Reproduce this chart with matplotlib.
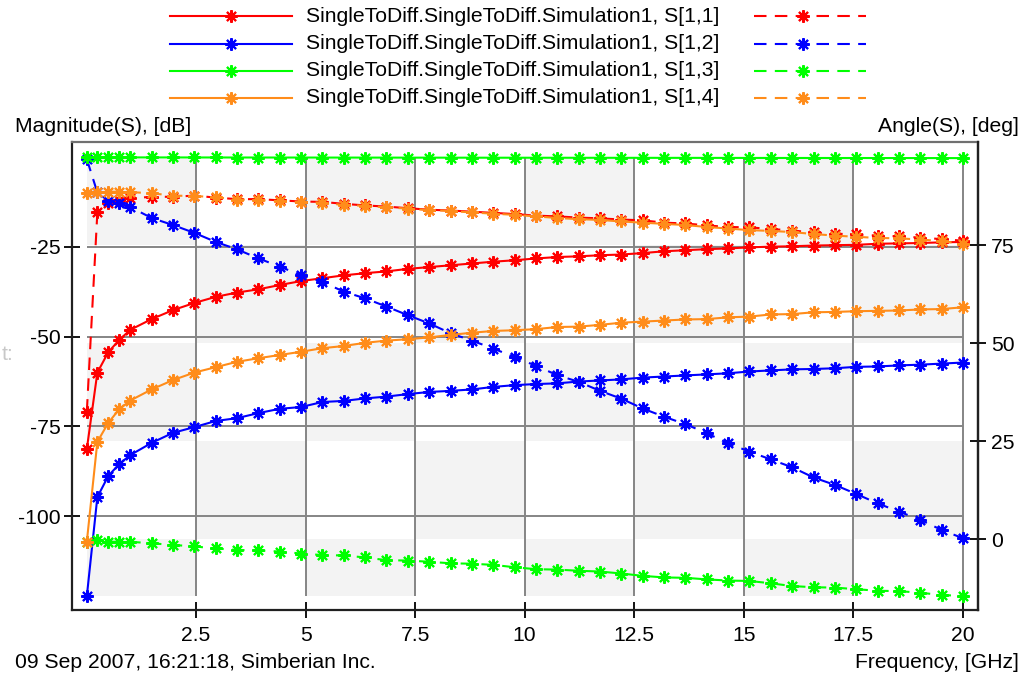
import matplotlib
matplotlib.use('Agg')
import matplotlib.pyplot as plt
from matplotlib.lines import Line2D
from matplotlib.patches import Rectangle

plt.rcParams['font.family'] = ['Liberation Sans', 'DejaVu Sans']
plt.rcParams['axes.unicode_minus'] = False

# ---------------- data ----------------
freq = [0.01, 0.25, 0.5, 0.75, 1.0, 1.487, 1.974, 2.462, 2.949, 3.436, 3.923, 4.41,
        4.897, 5.385, 5.872, 6.359, 6.846, 7.333, 7.821, 8.308, 8.795, 9.282, 9.769,
        10.256, 10.744, 11.231, 11.718, 12.205, 12.692, 13.179, 13.667, 14.154, 14.641,
        15.128, 15.615, 16.103, 16.59, 17.077, 17.564, 18.051, 18.538, 19.026, 19.513, 20.0]

s11_db = [-81.3, -60.0, -54.3, -50.9, -48.1, -45.1, -42.6, -40.6, -38.9, -37.7, -36.8,
          -35.6, -34.5, -33.7, -32.9, -32.3, -31.8, -31.1, -30.6, -30.1, -29.6, -29.1,
          -28.7, -28.2, -27.8, -27.6, -27.3, -27.1, -26.7, -26.2, -25.9, -25.6, -25.4,
          -25.1, -24.9, -24.8, -24.6, -24.5, -24.4, -24.1, -24.0, -23.9, -23.7, -23.6]
s11_deg = [32.5, 83.3, 85.6, 86.5, 86.9, 87.3, 87.3, 87.6, 87.1, 86.7, 86.7, 86.4, 86.1,
           86.0, 85.5, 85.1, 84.8, 84.4, 84.0, 83.8, 83.5, 83.2, 82.9, 82.5, 82.3, 82.0,
           81.8, 81.5, 81.3, 80.7, 80.5, 80.0, 79.6, 79.5, 79.1, 78.7, 78.2, 77.9, 77.7,
           77.4, 77.2, 76.9, 76.5, 76.1]

s12_db = [-122.3, -94.7, -88.8, -85.5, -83.0, -79.6, -76.8, -75.2, -73.5, -72.7, -71.3,
          -70.1, -69.6, -68.2, -67.9, -67.2, -66.7, -66.0, -65.4, -65.1, -64.7, -64.0,
          -63.5, -63.2, -63.0, -62.5, -62.2, -61.9, -61.4, -61.1, -60.8, -60.5, -60.2,
          -59.7, -59.4, -59.1, -59.0, -58.8, -58.4, -58.3, -58.0, -57.8, -57.5, -57.2]
s12_deg = [96.9, 88.4, 86.3, 85.6, 84.7, 81.9, 80.1, 78.1, 75.8, 73.9, 71.6, 69.5, 67.3,
           65.6, 63.1, 61.4, 59.3, 57.1, 55.0, 52.5, 50.6, 48.6, 46.4, 44.2, 41.8, 40.1,
           37.8, 35.8, 33.3, 31.2, 29.3, 27.0, 24.4, 22.3, 20.3, 18.3, 15.7, 13.8, 11.5,
           9.1, 7.0, 4.9, 2.3, 0.2]

s13_db = [-0.01, -0.02, -0.02, -0.03, -0.03, -0.04, -0.04, -0.05, -0.05, -0.06, -0.06,
          -0.07, -0.07, -0.08, -0.08, -0.09, -0.09, -0.10, -0.10, -0.11, -0.11, -0.12,
          -0.12, -0.13, -0.13, -0.14, -0.14, -0.15, -0.15, -0.16, -0.16, -0.17, -0.17,
          -0.18, -0.18, -0.19, -0.19, -0.20, -0.20, -0.21, -0.21, -0.22, -0.22, -0.23]
s13_deg = [-0.7, -0.2, -0.7, -0.7, -0.7, -1.1, -1.5, -1.9, -2.4, -2.8, -2.9, -3.2, -3.7,
           -4.1, -4.2, -4.7, -5.4, -5.5, -5.8, -6.2, -6.3, -6.6, -7.2, -7.7, -7.8, -8.1,
           -8.3, -8.8, -9.4, -9.8, -9.9, -10.3, -10.6, -10.7, -11.3, -12.0, -12.3, -12.4,
           -12.8, -13.2, -13.3, -13.7, -14.3, -14.5]

s14_db = [-107.1, -79.3, -74.0, -70.2, -67.8, -64.7, -62.1, -60.0, -58.5, -57.0, -56.0,
          -55.1, -54.2, -53.2, -52.6, -51.7, -51.1, -50.7, -50.2, -49.5, -48.9, -48.4,
          -48.2, -47.9, -47.3, -47.2, -46.7, -46.1, -45.8, -45.5, -45.2, -45.1, -44.6,
          -44.4, -43.8, -43.7, -43.2, -43.1, -42.9, -42.8, -42.7, -42.4, -42.3, -41.8]
s14_deg = [88.2, 88.6, 88.6, 88.6, 88.5, 88.2, 87.6, 87.5, 87.2, 86.6, 86.5, 86.2, 86.0,
           85.8, 85.2, 85.0, 84.6, 84.3, 83.9, 83.7, 83.3, 83.0, 82.7, 82.3, 81.9, 81.6,
           81.4, 81.0, 80.7, 80.4, 80.1, 79.6, 79.2, 78.8, 78.6, 78.3, 77.8, 77.4, 77.1,
           76.8, 76.7, 76.4, 76.0, 75.3]

series_labels = ['SingleToDiff.SingleToDiff.Simulation1, S[1,1]',
                 'SingleToDiff.SingleToDiff.Simulation1, S[1,2]',
                 'SingleToDiff.SingleToDiff.Simulation1, S[1,3]',
                 'SingleToDiff.SingleToDiff.Simulation1, S[1,4]']
series_colors = ['#ff0000', '#0000ff', '#00ff00', '#ff8c1a']
mags = [s11_db, s12_db, s13_db, s14_db]
angs = [s11_deg, s12_deg, s13_deg, s14_deg]

x_ticks = [2.5, 5, 7.5, 10, 12.5, 15, 17.5, 20]
x_ticklabels = ['2.5', '5', '7.5', '10', '12.5', '15', '17.5', '20']
mag_ticks = [-100, -75, -50, -25]
ang_ticks = [0, 25, 50, 75]

# ---------------- figure ----------------
W, H = 1028, 678
fig = plt.figure(figsize=(W / 100, H / 100), dpi=100)
ax = fig.add_axes([72 / W, 1 - 610 / H, (978 - 72) / W, (610 - 142) / H])
ax2 = ax.twinx()

XL = (-0.3285, 20.343)
YL = (-126.17, 4.26)
Y2L = (-18.11, 101.28)
ax.set_xlim(*XL)
ax.set_ylim(*YL)
ax2.set_ylim(*Y2L)
ax.set_autoscale_on(False)
ax2.set_autoscale_on(False)

FS = 15.2
MK = dict(marker=(8, 2, 0), markersize=9, markeredgewidth=1.5)
LW = 1.5
DASH = (6, 4)

# checkerboard shading (columns: x ticks, rows: angle ticks)
fmin, fmax = min(freq), max(freq)
all_ang = [v for a in angs for v in a]
all_mag = [v for m in mags for v in m]
amin, amax = min(all_ang), max(all_ang)
mmin, mmax = min(all_mag), max(all_mag)
col_edges = [fmin] + x_ticks[:-1] + [fmax]
row_edges = [amax, 75, 50, 25, 0, amin]
for ci in range(len(col_edges) - 1):
    for ri in range(len(row_edges) - 1):
        if (ci + ri) % 2 == 0:
            x0, x1 = col_edges[ci], col_edges[ci + 1]
            y1, y0 = row_edges[ri], row_edges[ri + 1]
            ax.add_patch(Rectangle((x0, y0), x1 - x0, y1 - y0, facecolor='#f3f3f3',
                                   edgecolor='none', zorder=0,
                                   transform=ax2.transData))

# grid lines limited to data extent
ax.hlines(mag_ticks, fmin, fmax, colors='#858585', linewidth=1.4, zorder=1)
ax.vlines(x_ticks, mmin, mmax, colors='#858585', linewidth=1.4, zorder=1)

# each series: magnitude (solid, left axis) then angle (dashed, right axis)
for m, a, c in zip(mags, angs, series_colors):
    ax.plot(freq, m, color=c, linewidth=LW, zorder=3, **MK)
    ax.plot(freq, a, color=c, linewidth=LW, dashes=DASH, zorder=3,
            transform=ax2.transData, **MK)

ax.set_xlim(*XL)
ax.set_ylim(*YL)
ax2.set_ylim(*Y2L)

ax.set_xticks(x_ticks)
ax.set_xticklabels(x_ticklabels)
ax.set_yticks(mag_ticks)
ax.set_yticklabels([str(v) for v in mag_ticks])
ax2.set_yticks(ang_ticks)
ax2.set_yticklabels([str(v) for v in ang_ticks])

ax.tick_params(axis='x', direction='inout', length=11, width=1.3, labelsize=FS,
               pad=6, colors='black', top=False)
ax.tick_params(axis='y', direction='inout', length=11, width=1.3, labelsize=FS,
               pad=2.5, colors='black', right=False)
ax2.tick_params(axis='y', direction='inout', length=11, width=1.3, labelsize=FS,
                pad=4, colors='black')

for a in (ax, ax2):
    for s in a.spines.values():
        s.set_linewidth(1.6)
        s.set_color('#202020')
    a.spines['top'].set_color('#707070')
ax2.spines['left'].set_visible(False)
ax2.spines['bottom'].set_visible(False)
ax2.spines['top'].set_visible(False)

# axis titles / footer
fig.text(15 / W, 1 - 127 / H, 'Magnitude(S), [dB]', fontsize=FS, ha='left', va='center')
fig.text(1019 / W, 1 - 127 / H, 'Angle(S), [deg]', fontsize=FS, ha='right', va='center')
fig.text(15 / W, 1 - 663 / H, '09 Sep 2007, 16:21:18, Simberian Inc.', fontsize=FS,
         ha='left', va='center')
fig.text(1019 / W, 1 - 663 / H, 'Frequency, [GHz]', fontsize=FS, ha='right', va='center')
fig.text(2 / W, 1 - 354 / H, 't:', fontsize=FS, ha='left', va='center', color='#c8c8c8')

# legend (manual: solid sample, label, dashed sample)
rows_y = [16, 43.5, 70.5, 97.5]
for yy, lab, c in zip(rows_y, series_labels, series_colors):
    yf = 1 - yy / H
    fig.add_artist(Line2D([170 / W, 292 / W], [yf, yf], color=c, linewidth=LW,
                          transform=fig.transFigure))
    fig.add_artist(Line2D([231 / W], [yf], color=c, linestyle='none',
                          transform=fig.transFigure, **MK))
    fig.text(306 / W, yf, lab, fontsize=FS, ha='left', va='center')
    fig.add_artist(Line2D([754 / W, 866 / W], [yf, yf], color=c, linewidth=LW,
                          dashes=DASH, transform=fig.transFigure))
    fig.add_artist(Line2D([803 / W], [yf], color=c, linestyle='none',
                          transform=fig.transFigure, **MK))

fig.savefig('out.png', dpi=100)
